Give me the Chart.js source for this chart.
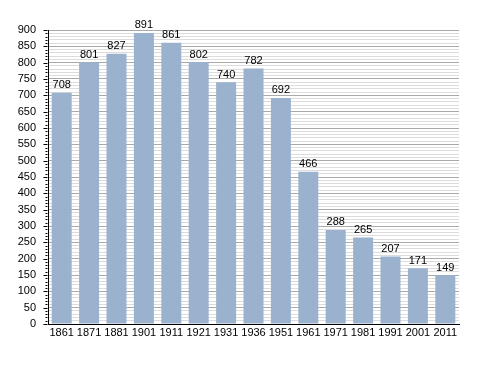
<!DOCTYPE html>
<html>
<head>
<meta charset="utf-8">
<script src="https://cdn.jsdelivr.net/npm/chart.js@4"></script>
<style>
  html, body { margin: 0; padding: 0; background: #fff; }
  #wrap { width: 488px; height: 373px; position: relative; }
</style>
</head>
<body>
<div id="wrap"><canvas id="popChart"></canvas></div>
<script>
// données
const years = ["1861", "1871", "1881", "1901", "1911", "1921", "1931", "1936", "1951", "1961", "1971", "1981", "1991", "2001", "2011"];
const population = [708, 801, 827, 891, 861, 802, 740, 782, 692, 466, 288, 265, 207, 171, 149];
const yMax = 900;
const yMinorStep = 10;
const yMajorStep = 50;

const FONT = "'Liberation Sans', Arial, sans-serif";

// petites graduations sur l'axe vertical (longues tous les 50, courtes tous les 10)
const yTickMarks = {
  id: "yTickMarks",
  afterDraw(chart) {
    const y = chart.scales.y;
    const c = chart.ctx;
    const x0 = Math.round(y.right) - 0.5;
    c.save();
    c.strokeStyle = "#000";
    c.lineWidth = 1;
    c.beginPath();
    y.ticks.forEach((t) => {
      const len = t.value % yMajorStep === 0 ? 4 : 2;
      const py = Math.round(y.getPixelForValue(t.value)) + 0.5;
      c.moveTo(x0 - len, py);
      c.lineTo(x0, py);
    });
    c.stroke();
    c.restore();
  },
};

// valeurs au-dessus des barres
const barValues = {
  id: "barValues",
  afterDatasetsDraw(chart) {
    const c = chart.ctx;
    const meta = chart.getDatasetMeta(0);
    c.save();
    c.font = "11px " + FONT;
    c.fillStyle = "#000";
    c.textAlign = "center";
    c.textBaseline = "bottom";
    meta.data.forEach((bar, i) => {
      c.fillText(String(population[i]), bar.x, bar.y - 2);
    });
    c.restore();
  },
};

const ctx = document.getElementById("popChart").getContext("2d");
const popChart = new Chart(ctx, {
  type: "bar",
  data: {
    labels: years,
    datasets: [
      {
        data: population,
        backgroundColor: "#9bb2ce",
        borderWidth: 0,
        barPercentage: 0.73,
        categoryPercentage: 1,
      },
    ],
  },
  options: {
    responsive: true,
    maintainAspectRatio: false,
    animation: false,
    layout: { padding: { left: 0, right: 29, top: 30, bottom: 29 } },
    plugins: {
      legend: { display: false },
      tooltip: { enabled: false },
    },
    scales: {
      x: {
        offset: true,
        grid: { display: false, drawTicks: false },
        border: { display: true, color: "#000", width: 1 },
        ticks: {
          color: "#000",
          font: { family: FONT, size: 11 },
          padding: 2,
          autoSkip: false,
          maxRotation: 0,
        },
        afterFit(scale) { scale.height = 20; },
      },
      y: {
        min: 0,
        max: yMax,
        grid: {
          drawTicks: false,
          color: (c) => (c.tick && c.tick.value % yMajorStep === 0 ? "#a9a9a9" : "#dcdcdc"),
        },
        border: { display: true, color: "#000", width: 1 },
        ticks: {
          stepSize: yMinorStep,
          autoSkip: false,
          color: "#000",
          font: { family: FONT, size: 11 },
          padding: 12,
          callback: (v) => (v % yMajorStep === 0 ? v : ""),
        },
        afterFit(scale) { scale.width = 48; },
      },
    },
  },
  plugins: [yTickMarks, barValues],
});
</script>
</body>
</html>
